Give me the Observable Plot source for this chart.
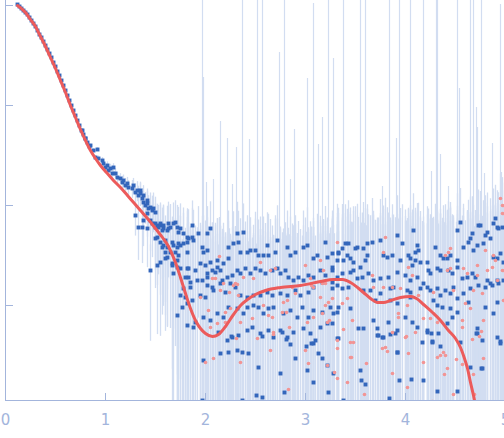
<!DOCTYPE html>
<html><head><meta charset="utf-8">
<script src="https://cdn.jsdelivr.net/npm/d3@7"></script>
<script src="https://cdn.jsdelivr.net/npm/@observablehq/plot@0.6"></script>
<style>body{margin:0;background:#fff}#chart svg{display:block}</style>
</head><body><div id="chart"></div>
<script>
// values: q (nm^-1), log10 intensity, sigma (x1e-3)
const xTicks = [0, 1, 2, 3, 4, 5];
const yTicks = [1, 0.1, 0.01, 0.001];

const fitCurve = [[0.12,0],[0.20,-0.07],[0.25,-0.14],[0.30,-0.21],[0.35,-0.31],[0.40,-0.41],[0.45,-0.52],[0.50,-0.63],[0.55,-0.75],[0.60,-0.87],[0.65,-1.00],[0.70,-1.12],[0.75,-1.24],[0.80,-1.35],[0.85,-1.45],[0.90,-1.53],[0.95,-1.60],[1.01,-1.67],[1.08,-1.75],[1.15,-1.82],[1.22,-1.90],[1.29,-1.98],[1.35,-2.05],[1.42,-2.13],[1.50,-2.23],[1.57,-2.32],[1.63,-2.41],[1.70,-2.57],[1.75,-2.72],[1.80,-2.88],[1.85,-3.03],[1.90,-3.15],[1.95,-3.23],[2.00,-3.28],[2.07,-3.31],[2.13,-3.29],[2.20,-3.21],[2.28,-3.09],[2.35,-3.00],[2.42,-2.94],[2.50,-2.89],[2.60,-2.85],[2.75,-2.82],[2.95,-2.80],[3.15,-2.76],[3.28,-2.74],[3.37,-2.74],[3.45,-2.77],[3.52,-2.82],[3.58,-2.87],[3.65,-2.93],[3.72,-2.97],[3.78,-2.97],[3.85,-2.95],[3.95,-2.92],[4.05,-2.91],[4.11,-2.93],[4.18,-2.99],[4.27,-3.07],[4.35,-3.15],[4.43,-3.25],[4.50,-3.33],[4.55,-3.42],[4.59,-3.53],[4.62,-3.63],[4.65,-3.77],[4.68,-3.90],[4.70,-4.00],[4.72,-4.13]];

const lowQPoints = [[0.12,0.01],[0.14,-0.01],[0.16,-0.03],[0.18,-0.05],[0.20,-0.07],[0.22,-0.09],[0.24,-0.12],[0.26,-0.15],[0.28,-0.18],[0.30,-0.21],[0.32,-0.25],[0.34,-0.29],[0.36,-0.32],[0.38,-0.36],[0.40,-0.40],[0.42,-0.44],[0.44,-0.48],[0.46,-0.52],[0.48,-0.57],[0.50,-0.61],[0.52,-0.66],[0.54,-0.70],[0.56,-0.75],[0.58,-0.80],[0.60,-0.85],[0.62,-0.90],[0.64,-0.95],[0.66,-1.00],[0.68,-1.05],[0.70,-1.10],[0.72,-1.15],[0.74,-1.20],[0.76,-1.25],[0.78,-1.29],[0.80,-1.33],[0.82,-1.37],[0.84,-1.41]];

const midQPoints = [[0.77,-1.25,1],[0.80,-1.33,1],[0.85,-1.40,1.2],[0.88,-1.45,1.5],[0.92,-1.44,1.5],[0.90,-1.52,1.5],[0.93,-1.53,1.8],[0.97,-1.55,2],[0.98,-1.58,1.8],[1.00,-1.62,2],[1.02,-1.60,2.2],[1.03,-1.65,2],[1.05,-1.63,2.4],[1.08,-1.62,2.2],[1.07,-1.68,2],[1.10,-1.68,2.4],[1.12,-1.72,2.5],[1.15,-1.73,2.2],[1.17,-1.77,2.6],[1.18,-1.75,2.4],[1.20,-1.80,2.8],[1.22,-1.78,2.5],[1.23,-1.82,2.6],[1.27,-1.83,3],[1.28,-1.80,2.8],[1.30,-1.87,3],[1.32,-1.85,3.2],[1.33,-1.90,3],[1.35,-1.88,3.4],[1.37,-1.93,3],[1.38,-1.97,3.2],[1.40,-2.00,3.5],[1.42,-1.98,3.4],[1.43,-2.03,3.2],[1.45,-2.02,3.8],[1.47,-2.05,3.5],[1.48,-2.03,4],[1.50,-2.07,3.6],[1.30,-2.10,3],[1.33,-2.22,3.2],[1.37,-2.22,3.4],[1.42,-2.23,3.5],[1.47,-2.18,3.6],[1.50,-2.22,3.8],[1.52,-2.20,4],[1.55,-2.20,3.8],[1.58,-2.23,4],[1.62,-2.25,4.2],[1.63,-2.23,4],[1.65,-2.22,4.2],[1.70,-2.17,4.4],[1.72,-2.22,4],[1.73,-2.27,4.2],[1.75,-2.23,4.5],[1.78,-2.28,4.2],[1.82,-2.32,4.5],[1.83,-2.33,4.4],[1.52,-2.32,3.2],[1.55,-2.37,3],[1.58,-2.40,3],[1.62,-2.42,3.2],[1.57,-2.42,3],[1.68,-2.40,3.4],[1.72,-2.42,3.6],[1.75,-2.40,3.8],[1.78,-2.38,4.2],[1.82,-2.37,4.4],[1.60,-2.47,2.6],[1.65,-2.47,2.8],[1.70,-2.47,3],[1.73,-2.50,3.4],[1.52,-2.60,2],[1.55,-2.57,2.2],[1.62,-2.52,2.4],[1.67,-2.58,2.4],[1.72,-2.62,3],[1.75,-2.63,3.4],[1.82,-2.63,4.2],[1.68,-2.68,2.2],[1.45,-2.65,1.8],[1.83,-2.72,4.2],[1.35,-1.85,3],[1.38,-1.90,3.2],[1.42,-1.95,3.4],[1.42,-2.08,3.5],[1.38,-2.15,3.2],[1.45,-2.15,3.6],[1.50,-2.18,3.8],[1.55,-2.18,4],[1.58,-2.20,3.8],[1.63,-2.18,4.2],[1.68,-2.18,4],[1.53,-2.22,4],[1.57,-2.25,3.8],[1.50,-2.33,3.2],[1.60,-2.35,3.4],[1.67,-2.37,3.4],[1.73,-2.38,3.8],[1.87,-2.32,4.6],[1.88,-2.35,4.5],[1.87,-2.20,4.8],[1.60,-2.53,2.4],[1.67,-2.60,2.4],[1.72,-2.55,3],[1.82,-2.47,4.2],[1.83,-2.63,4.4],[1.80,-2.72,4],[1.85,-2.77,4.4],[1.78,-2.83,3.6],[1.75,-2.90,3.4],[1.80,-2.92,4],[1.85,-2.82,4.4],[1.87,-2.95,4.5],[1.82,-2.98,4.2],[1.77,-3.02,3.6],[1.72,-3.10,3.2],[1.82,-3.20,4.2],[1.88,-3.22,4.5]];

const highQPoints = [[1.93,-2.28,4.5],[2.02,-2.28,4.5],[2.05,-2.23,5],[1.97,-2.42,4],[1.98,-2.47,4.5],[2.02,-2.45,4],[1.90,-2.65,4],[1.92,-2.75,4.2],[1.97,-2.75,4.5],[2.02,-2.72,4],[2.02,-2.80,4.5],[2.07,-2.82,4],[2.10,-2.67,4.5],[2.15,-2.65,4],[2.12,-2.62,5],[2.18,-2.58,4],[2.12,-2.55,4.5],[2.23,-2.53,4],[2.23,-2.42,5],[2.28,-2.38,4.5],[2.32,-2.28,5.5],[2.38,-2.27,5],[2.33,-2.37,4.5],[2.35,-2.47,4],[2.42,-2.47,4.5],[2.45,-2.45,4],[2.50,-2.45,5],[2.53,-2.50,4],[2.58,-2.50,4.5],[2.63,-2.50,5],[2.70,-2.47,4.5],[2.72,-2.35,5.5],[2.62,-2.40,4.5],[2.82,-2.42,5],[2.85,-2.50,4.5],[2.90,-2.47,4.5],[2.98,-2.42,5],[3.02,-2.40,5.5],[3.08,-2.53,4.5],[3.12,-2.50,5],[3.20,-2.37,5.5],[3.22,-2.52,4.5],[3.27,-2.62,5],[3.32,-2.55,5.5],[3.33,-2.48,5],
[2.05,-2.57,4],[2.00,-2.60,4.5],[1.95,-2.58,4],[2.07,-2.65,4.5],[2.02,-2.68,4],[2.17,-2.75,4],[2.22,-2.72,3.5],[2.27,-2.70,4],[2.32,-2.65,5],[2.35,-2.68,3.5],[2.40,-2.63,4.5],[2.45,-2.68,4],[2.50,-2.63,5],[2.55,-2.65,3.5],[2.60,-2.68,4.5],[2.67,-2.65,4],[2.72,-2.63,5],[2.75,-2.68,4],[2.80,-2.65,4.5],[2.83,-2.72,4],[2.88,-2.75,4.5],[2.93,-2.72,5],[2.98,-2.75,4.5],[3.03,-2.70,4],[3.08,-2.72,5],[3.15,-2.65,4.5],[3.20,-2.70,5],[3.27,-2.77,5.5],[3.32,-2.72,5],[3.17,-2.77,4.5],[3.08,-2.82,4.5],[3.03,-2.87,4],[2.95,-2.90,4.5],[2.90,-2.85,5],[2.82,-2.90,4],[2.75,-2.88,4.5],[2.67,-2.90,3.5],[2.62,-2.87,4],[2.55,-2.90,4.5],[2.48,-2.90,4],[2.42,-2.92,3.5],[2.35,-2.90,4],[2.30,-2.82,4.5],[2.25,-2.78,3.5],[2.20,-2.87,4],[2.15,-2.78,4.5],[2.08,-2.85,3.5],[2.00,-2.92,4],[1.95,-2.90,4.5],
[1.90,-3.17,4],[1.98,-3.12,4.5],[2.05,-3.15,4],[2.12,-3.08,3.5],[2.18,-3.12,4],[2.23,-3.02,4.5],[2.32,-3.03,3.5],[2.38,-3.08,4],[2.42,-3.02,4.5],[2.48,-3.00,4],[2.53,-3.02,3.5],[2.58,-3.08,4],[2.63,-3.03,4.5],[2.68,-3.02,4],[2.78,-3.08,5],[2.85,-3.05,4],[2.92,-3.12,4.5],[2.97,-3.02,4],[3.03,-3.12,5],[3.08,-3.05,4],[3.17,-3.07,4.5],[3.25,-3.02,5],[3.32,-3.07,5.5],[3.22,-3.18,4.5],[3.15,-3.22,4.5],[3.05,-3.28,4],[2.98,-3.23,5],[2.88,-3.27,4],[2.82,-3.32,4.5],[2.75,-3.25,4],[2.68,-3.32,3.5],[2.63,-3.25,4],[2.55,-3.28,4.5],[2.47,-3.22,4],[2.42,-3.25,3.5],[2.33,-3.30,4],[2.27,-3.32,4.5],[2.22,-3.35,4],[2.13,-3.27,3.5],
[1.98,-3.55,4],[2.15,-3.48,4.5],[2.23,-3.47,4],[2.32,-3.45,4],[2.37,-3.47,3.5],[2.43,-3.48,4],[2.53,-3.62,4.5],[2.75,-3.68,4],[2.90,-3.53,4.5],[3.08,-3.38,4],[3.13,-3.48,5],[3.22,-3.60,4.5],[3.28,-3.68,5],[2.51,-3.90,4],[2.57,-3.92,4.5],[2.79,-3.87,4],[3.02,-3.65,5],[3.08,-3.77,4],[3.23,-3.87,4.5],[2.26,-3.31,4],[2.57,-3.31,4.5],[2.77,-3.27,4],[2.81,-3.34,4.5],[2.85,-3.39,4],[3.01,-3.41,5],[3.06,-3.38,4],[3.10,-3.35,4.5],[3.17,-3.53,4],[3.33,-3.33,5],[1.97,-3.95,4],[2.37,-3.95,4],[3.38,-3.95,5],
[3.55,-3.65,6],[3.56,-3.75,6.5],[3.60,-3.79,6],[3.72,-3.30,7],[3.77,-3.32,6],[3.84,-3.93,6.5],[3.85,-3.29,6],[3.90,-3.28,7],[3.92,-3.47,6],[3.94,-3.75,6.5],[4.06,-3.74,6],[4.18,-3.75,6.5],[4.22,-3.27,6],[4.26,-3.28,7],[4.27,-3.36,6],[4.35,-3.41,6.5],[4.32,-3.86,6],[4.52,-3.86,6.5],[4.55,-3.37,6],[4.65,-3.62,7],[4.71,-3.28,6],[4.76,-3.63,6.5],[4.95,-3.36,6],
[3.27,-2.48,5.5],[3.33,-2.47,6],[3.37,-2.43,6.5],[3.40,-2.38,6],[3.43,-2.38,7],[3.38,-2.55,5.5],[3.45,-2.53,6.5],[3.42,-2.50,6],[3.48,-2.57,7],[3.50,-2.43,6],[3.52,-2.42,6.5],[3.58,-2.43,7],[3.62,-2.38,6],[3.67,-2.37,7.5],[3.62,-2.50,6],[3.60,-2.55,6.5],[3.55,-2.62,6],[3.75,-2.35,7],[3.78,-2.50,6],[3.82,-2.52,6.5],[3.87,-2.50,7],[3.92,-2.30,7.5],[3.97,-2.38,6],[3.95,-2.55,6.5],[4.03,-2.50,6],[4.05,-2.53,7],[4.08,-2.25,7.5],[4.10,-2.47,6],[4.12,-2.40,6.5],[4.13,-2.45,7],[4.10,-2.55,6],[4.07,-2.60,6.5],[4.15,-2.57,6],[4.22,-2.57,7],[4.30,-2.42,6.5],[4.35,-2.50,6],[4.38,-2.53,7],[4.42,-2.53,6],[4.45,-2.50,6.5],[4.52,-2.55,7],[4.52,-2.25,7.5],[4.55,-2.17,8],[4.58,-2.42,6.5],[4.63,-2.37,7],[4.65,-2.33,7.5],[4.67,-2.28,7],[4.68,-2.45,6.5],[4.72,-2.40,7],[4.73,-2.20,8],[4.75,-2.20,7.5],[4.78,-2.38,7],[4.80,-2.30,7.5],[4.82,-2.27,8],[4.85,-2.33,7],[4.88,-2.18,8],[4.90,-2.13,8.5],[4.92,-2.22,8],[4.93,-2.23,7.5],[4.97,-2.22,8],[4.88,-2.52,7],[4.92,-2.53,7.5],[4.95,-2.48,7],[4.98,-2.57,7.5],
[3.27,-2.65,5.5],[3.37,-2.68,6],[3.27,-2.83,5.5],[3.32,-2.80,6],[3.37,-2.83,6],[3.43,-2.82,7],[3.52,-2.73,6],[3.57,-2.72,6.5],[3.63,-2.68,6],[3.68,-2.75,7],[3.75,-2.73,6],[3.83,-2.72,6.5],[3.92,-2.67,6],[4.00,-2.70,7],[4.05,-2.75,6],[4.12,-2.72,6.5],[4.18,-2.78,6],[4.23,-2.65,7],[4.25,-2.68,6],[4.32,-2.63,6.5],[4.35,-2.65,6],[4.43,-2.65,7],[4.47,-2.68,6],[4.52,-2.62,6.5],[4.57,-2.73,6],[4.62,-2.72,7],[4.67,-2.68,6.5],[4.70,-2.72,7],[4.82,-2.75,6.5],[4.85,-2.78,7],[4.92,-2.75,7.5],[4.98,-2.75,7],[3.45,-2.67,6],[3.48,-2.65,6.5],[3.58,-2.85,6],[3.65,-2.85,6.5],[3.70,-2.95,6],[3.75,-2.88,7],[3.85,-2.83,6],[3.88,-2.82,6.5],[4.02,-2.85,6],[4.05,-2.87,7],[4.15,-2.83,6],[4.22,-2.82,6.5],[4.25,-2.85,6],[4.32,-2.83,7],[4.40,-2.85,6],[4.45,-2.88,6.5],[4.48,-2.82,6],[4.52,-2.93,7],[4.58,-2.88,6.5],[4.65,-2.83,7],[4.73,-2.80,6.5],[4.80,-2.82,7],[4.87,-2.80,7.5],[4.93,-2.78,7],[3.85,-2.95,6],[3.92,-2.98,6.5],[4.05,-2.92,6],[4.28,-2.95,6.5],[4.32,-3.00,6],[4.35,-2.90,7],[4.45,-3.03,6],[4.52,-3.07,6.5],[4.63,-2.97,7],[4.80,-3.02,6.5],[4.88,-3.08,7],[4.92,-2.97,7.5],
[3.28,-3.08,5.5],[3.33,-3.02,6],[3.27,-3.18,5.5],[3.32,-3.33,6],[3.45,-3.03,6],[3.53,-3.23,7],[3.58,-3.23,6],[3.68,-3.15,6.5],[3.72,-3.23,6],[3.73,-3.30,7],[3.78,-3.32,6],[3.83,-3.17,6.5],[3.92,-3.25,6],[4.00,-3.12,7],[4.07,-3.17,6],[4.12,-3.22,6.5],[4.22,-3.25,6],[4.27,-3.37,7],[4.33,-3.28,6],[4.37,-3.02,6.5],[4.42,-3.18,6],[4.47,-3.12,7],[4.72,-3.23,6.5],[4.72,-3.28,7],[4.77,-3.35,6.5],[3.92,-3.47,6],[4.17,-3.37,6.5],[4.92,-3.32,7],[4.95,-3.38,7.5],[4.77,-3.63,7]];

const pinkPoints = [[1.95,-2.92,4],[2.03,-3.05,4.5],[2.07,-2.73,4],[2.10,-2.73,4.5],[2.05,-3.22,4],[2.12,-3.18,4.5],[2.15,-2.85,4],[2.14,-2.51,4.5],[2.20,-3.07,4],[2.20,-3.17,4.5],[2.25,-3.03,4],[2.30,-2.78,4.5],[2.33,-2.90,4],[2.35,-3.17,4.5],[2.38,-2.72,4],[2.48,-2.73,4.5],[2.47,-3.13,4],[2.55,-2.57,5],[2.52,-3.33,4],[2.58,-3.00,4.5],[2.63,-3.10,4],[2.65,-2.65,5],[2.67,-3.12,4],[2.68,-3.27,4.5],[2.65,-3.45,4],[2.70,-2.63,5],[2.78,-2.97,4],[2.77,-3.07,4.5],[2.82,-2.95,4],[2.87,-2.82,5],[2.90,-2.88,4],[3.00,-2.60,5],[3.02,-3.17,4],[3.00,-3.45,4.5],[3.03,-3.58,4],[3.05,-2.73,5],[3.15,-2.55,5],[3.15,-2.92,4],[3.17,-2.78,4.5],[3.18,-2.65,5],[3.20,-2.78,4.5],[3.22,-3.17,4.5],[3.22,-3.60,4.5],[3.27,-2.93,5],[3.32,-3.43,5],[3.32,-3.35,5],[2.35,-3.57,4],[2.00,-3.57,4],[2.18,-2.78,4],[2.24,-2.87,4.5],[2.28,-2.80,4],[2.32,-2.79,4.5],[2.81,-3.07,4],[2.84,-3.22,4.5],[2.83,-3.84,4],[3.08,-3.12,4.5],[3.17,-3.08,4],[3.20,-3.00,4.5],[3.23,-2.97,4.5],[3.24,-3.15,4.5],[3.29,-3.67,5],[3.32,-3.73,5],[3.08,-2.82,4.5],[3.06,-2.80,4.5],[2.08,-3.53,4],[2.31,-3.33,4],[2.68,-3.29,4.5],[3.45,-3.37,6],[3.48,-3.37,6.5],[3.42,-3.77,6],[3.46,-3.52,6.5],[3.61,-3.58,6],[3.59,-3.89,6.5],[3.77,-3.43,6],[3.82,-3.46,6.5],[3.87,-3.68,6],[4.01,-3.31,6.5],[4.03,-3.48,6],[4.02,-3.82,6.5],[4.18,-3.57,6],[4.27,-3.96,6.5],[4.32,-3.52,6],[4.38,-3.47,6.5],[4.40,-3.50,6],[4.39,-3.69,6.5],[4.48,-3.89,6],[4.51,-3.54,6.5],[4.57,-3.59,6],[4.67,-3.34,6.5],[4.68,-3.69,6],[4.74,-3.31,6.5],[4.69,-3.89,6],[4.76,-3.26,6.5],[3.32,-2.37,6],[3.37,-2.98,6],[3.42,-2.93,6.5],[3.47,-3.15,6],[3.38,-3.24,6.5],[3.45,-3.52,6],[3.80,-2.32,7],[3.78,-2.47,6.5],[3.67,-2.70,6],[3.68,-2.82,6.5],[3.78,-2.82,6],[3.87,-2.82,6.5],[3.95,-2.83,6],[3.87,-3.27,6.5],[3.80,-3.42,6],[3.93,-3.08,6.5],[3.93,-3.12,6],[4.00,-3.32,6.5],[4.02,-3.00,6],[4.03,-2.62,7],[4.07,-2.70,6.5],[4.10,-3.27,6],[4.13,-2.90,6.5],[4.18,-3.13,6],[4.25,-3.13,6.5],[4.28,-2.87,6],[4.32,-3.17,6.5],[4.35,-3.50,6],[4.40,-2.50,7],[4.43,-2.47,7.5],[4.45,-2.43,7],[4.42,-2.65,6.5],[4.45,-2.63,7],[4.48,-2.85,6.5],[4.58,-2.63,7],[4.62,-2.68,6.5],[4.57,-3.15,6],[4.57,-3.22,6.5],[4.60,-2.98,6],[4.65,-3.03,6.5],[4.72,-2.70,7],[4.72,-2.60,7.5],[4.77,-2.88,6.5],[4.78,-3.15,7],[4.82,-2.65,7.5],[4.88,-2.50,7],[4.87,-2.62,7.5],[4.92,-2.75,7],[4.97,-2.65,7.5],[4.98,-2.95,7],[4.95,-1.93,9],[4.97,-2.00,9],[4.97,-2.08,8.5],[4.80,-2.45,7],[4.68,-2.85,6.5],[4.42,-3.63,6],[4.78,-3.53,6.5],[4.90,-2.55,7]];

// error bars so large they reach far up the frame: [q, log10 top]
const tallBars = [[1.97,0.05],[1.98,-0.72],[2.01,-1.77],[2.08,-1.74],[2.15,-1.16],[2.22,-1.33],[2.27,-1.79],[2.31,-1.42],[2.37,0.05],[2.44,-1.34],[2.52,0.05],[2.57,0.05],[2.74,-0.47],[2.79,0.05],[2.85,-1.74],[2.89,-1.24],[3.02,-0.73],[3.08,0.02],[3.13,-1.39],[3.17,-1.12],[3.23,0.05],[3.28,-0.53],[3.38,0.05],[3.55,0.05],[3.60,0.05],[3.77,-1.81],[3.84,0.05],[3.91,-1.33],[3.94,0.05],[4.05,0.05],[4.18,0.05],[4.26,-1.66],[4.31,0.05],[4.32,0.05],[4.35,-1.49],[4.43,-1.81],[4.52,0.05],[4.54,-0.83],[4.65,0.05],[4.68,0.05],[4.71,-1.02],[4.72,-1.22],[4.76,0.05],[4.79,-1.68],[4.87,-1.38],[4.95,0.01],[4.96,-1.67]];

const yMin = 10 ** -3.95, yMax = 10 ** 0.05, floorI = 1e-6;
const toRow = ([q, l, s = 0]) => ({q, I: 10 ** l, s: s * 1e-3});
const blue = [...lowQPoints, ...midQPoints, ...highQPoints].map(toRow);
const pink = pinkPoints.map(toRow);
const bars = [...blue, ...pink].filter(d => d.s > 0)
  .map(d => ({q: d.q, lo: Math.max(d.I - d.s, floorI), hi: d.I + d.s}));
const tall = tallBars.map(([q, t]) => ({q, lo: floorI, hi: 10 ** t}));
const fit = fitCurve.map(([q, l]) => ({q, I: 10 ** l}));

const axisColor = "#a3b5dc";
const barColor = "#d2ddf1";
const chart = Plot.plot({
  width: 504, height: 438,
  marginTop: 0, marginLeft: 5, marginRight: 0, marginBottom: 38,
  style: {fontFamily: "DejaVu Sans, sans-serif", fontSize: "15px", background: "#fff"},
  x: {domain: [0, 5], range: [5, 505], label: null},
  y: {type: "log", domain: [yMin, yMax], range: [400, 0], label: null},
  marks: [
    Plot.ruleX(bars, {x: "q", y1: "lo", y2: "hi", stroke: barColor, strokeWidth: 1.3, clip: true}),
    Plot.ruleX(tall, {x: "q", y1: "lo", y2: "hi", stroke: barColor, strokeWidth: 1.2, clip: true}),
    Plot.dot(blue, {x: "q", y: "I", symbol: "square", r: 2.2, fill: "#3366bb", stroke: "none", clip: true}),
    Plot.dot(pink, {x: "q", y: "I", r: 1.8, fill: "#f29494", stroke: "none", clip: true}),
    Plot.line(fit, {x: "q", y: "I", stroke: "#ec5b5b", strokeWidth: 3, curve: "monotone-x", clip: true}),
    Plot.ruleX([0], {stroke: axisColor}),
    Plot.ruleY([yMin], {stroke: axisColor}),
    Plot.axisX({ticks: xTicks, tickSize: 7, dy: -7, tickPadding: 14, color: axisColor, label: null, tickFormat: d => String(d)}),
    Plot.axisY({ticks: yTicks, tickSize: 8, dx: 8, color: axisColor, label: null, tickFormat: () => ""})
  ]
});
document.getElementById("chart").append(chart);
</script>
</body></html>
